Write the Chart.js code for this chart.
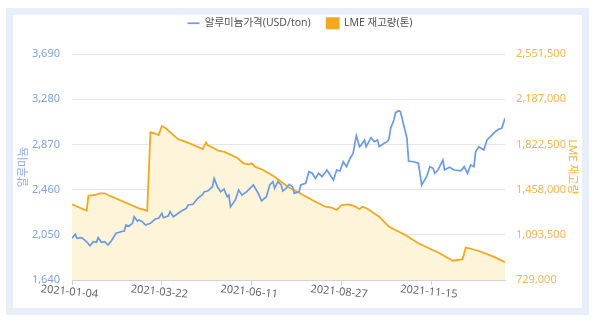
<!DOCTYPE html>
<html lang="ko">
<head>
<meta charset="utf-8">
<title>알루미늄 가격과 LME 재고량</title>
<script src="https://cdn.jsdelivr.net/npm/chart.js@4.4.1/dist/chart.umd.min.js"></script>
<style>
  html, body { margin: 0; padding: 0; background: #fff; }
  #wrap { position: relative; width: 600px; height: 325px; }
  #frame {
    position: absolute; left: 6px; top: 8px;
    width: 583px; height: 307px;
    box-sizing: border-box;
    border: 7px solid #e8eff9;
  }
  #chart { position: absolute; left: 0; top: 0; }
</style>
</head>
<body>
<div id="wrap">
  <div id="frame"></div>
  <canvas id="chart" width="600" height="325"></canvas>
</div>
<script>
// trading-day index (0 = 2021-01-04) and value
const priceDays = [
  0, 2, 3, 6, 9, 11, 13, 15, 16, 18, 20, 22, 24, 27, 30, 32, 33, 35, 37, 38,
  40, 41, 43, 45, 48, 51, 53, 55, 56, 59, 60, 62, 65, 67, 70, 71, 74, 77, 80, 81,
  83, 86, 87, 89, 91, 93, 95, 96, 97, 100, 102, 104, 107, 111, 114, 116, 119, 121, 123, 124,
  126, 128, 129, 131, 133, 135, 136, 139, 140, 143, 145, 147, 149, 151, 153, 156, 158, 160, 162, 164,
  166, 168, 170, 172, 174, 176, 177, 179, 180, 183, 185, 187, 188, 191, 193, 194, 195, 197, 198, 200,
  201, 203, 205, 206, 209, 212, 214, 217, 219, 221, 222, 224, 227, 228, 231, 234, 238, 240, 242, 244,
  246, 247, 249, 252, 254, 257, 259, 261, 263, 265
];
const priceUsd = [
  2018, 2055, 2018, 2024, 1987, 1951, 1987, 1982, 2024, 1982, 1987, 1957, 1994, 2064, 2078, 2084, 2139, 2130, 2154, 2214,
  2175, 2184, 2169, 2139, 2154, 2193, 2200, 2245, 2205, 2223, 2260, 2214, 2245, 2266, 2290, 2320, 2327, 2381, 2417, 2441,
  2447, 2486, 2562, 2486, 2441, 2465, 2396, 2411, 2305, 2366, 2456, 2410, 2441, 2502, 2426, 2357, 2396, 2502, 2532, 2472,
  2532, 2502, 2447, 2472, 2508, 2486, 2426, 2441, 2502, 2517, 2622, 2608, 2562, 2608, 2577, 2638, 2592, 2547, 2638, 2629,
  2713, 2668, 2738, 2789, 2949, 2849, 2865, 2910, 2849, 2931, 2895, 2910, 2849, 2880, 2895, 2919, 3016, 3091, 3158, 3176,
  3167, 3046, 2925, 2719, 2713, 2699, 2502, 2577, 2668, 2653, 2608, 2638, 2729, 2638, 2662, 2638, 2631, 2668, 2608, 2683,
  2668, 2804, 2849, 2819, 2910, 2955, 2985, 3007, 3016, 3107
];

const stockDays = [
  0, 9, 10, 14, 17, 20, 22, 41, 46, 48, 51, 53, 55, 57, 65, 71, 80, 82, 83, 90,
  93, 101, 105, 108, 110, 112, 117, 124, 132, 139, 147, 155, 159, 162, 165, 169, 172, 176, 178, 181,
  188, 194, 198, 204, 212, 225, 233, 239, 241, 243, 249, 258, 265
];
const stockTon = [
  1339400, 1287800, 1408800, 1414400, 1428100, 1428100, 1414400, 1307200, 1287800, 1920100,
  1908800, 1898300, 1970900, 1957100, 1863600, 1836200, 1785400, 1839400, 1817600, 1769300,
  1763600, 1715200, 1670100, 1662000, 1670100, 1642700, 1616000, 1562000, 1481400, 1433000,
  1374100, 1320100, 1312000, 1293500, 1333800, 1339400, 1328200, 1301500, 1320100, 1301500,
  1239400, 1158800, 1132200, 1091900, 1025000, 944300, 884600, 897000, 990000, 985000,
  962900, 916900, 871700
];

const tickDays = [0, 55, 110, 165, 220];
const tickLabels = ['2021-01-04', '2021-03-22', '2021-06-11', '2021-08-27', '2021-11-15'];

const priceLabel = '알루미늄가격(USD/ton)';
const stockLabel = 'LME 재고량(톤)';

const pricePoints = priceDays.map((d, i) => ({ x: d, y: priceUsd[i] }));
const stockPoints = stockDays.map((d, i) => ({ x: d, y: stockTon[i] }));

Chart.defaults.font.family = "'Noto Sans', 'Noto Sans CJK KR', sans-serif";
Chart.defaults.font.size = 11;

// fixed room above the plot for the legend
const legendSpace = {
  id: 'legendSpace',
  beforeInit(chart) {
    const fit = chart.legend.fit;
    chart.legend.fit = function () {
      fit.call(this);
      this.height = 52;
    };
  }
};

new Chart(document.getElementById('chart'), {
  type: 'line',
  data: {
    datasets: [{
      label: priceLabel,
      data: pricePoints,
      yAxisID: 'yPrice',
      borderColor: '#6b9be6',
      borderWidth: 1.7,
      pointRadius: 0,
      pointStyle: 'line',
      fill: false,
      tension: 0
    }, {
      label: stockLabel,
      data: stockPoints,
      yAxisID: 'yStock',
      borderColor: '#f4a81d',
      backgroundColor: '#fef4da',
      borderWidth: 1.8,
      pointRadius: 0,
      pointStyle: 'rect',
      fill: 'start',
      tension: 0
    }]
  },
  options: {
    responsive: false,
    animation: false,
    layout: { padding: { top: 2, left: 10, right: 10, bottom: 0 } },
    plugins: {
      tooltip: { enabled: false },
      legend: {
        position: 'top',
        labels: {
          usePointStyle: true,
          pointStyleWidth: 12,
          boxHeight: 10,
          padding: 16,
          color: '#555',
          font: { size: 10.5 },
          generateLabels(chart) {
            const items = Chart.defaults.plugins.legend.labels.generateLabels(chart);
            items.forEach(item => {
              const ds = chart.data.datasets[item.datasetIndex];
              item.fillStyle = ds.borderColor;
            });
            return items;
          }
        }
      }
    },
    scales: {
      x: {
        type: 'linear',
        min: 0,
        max: 265,
        afterBuildTicks(scale) {
          scale.ticks = tickDays.map(v => ({ value: v }));
        },
        afterFit(scale) { scale.height = 45; },
        ticks: {
          autoSkip: false,
          minRotation: -5.5,
          maxRotation: -5.5,
          labelOffset: 26,
          padding: 3,
          color: '#666',
          callback(value) { return tickLabels[tickDays.indexOf(value)]; }
        },
        grid: { drawOnChartArea: false, tickLength: 5, color: '#d3d3d3' },
        border: { color: '#d3d3d3' }
      },
      yPrice: {
        position: 'left',
        min: 1640,
        max: 3690,
        afterFit(scale) { scale.width = 62; },
        ticks: { stepSize: 410, padding: 12, color: '#7fa2e2' },
        grid: { color: '#e6e6e6', drawTicks: false },
        border: { display: false },
        title: { display: true, text: '알루미늄', color: '#8eabe6', padding: { top: 7 } }
      },
      yStock: {
        position: 'right',
        min: 729000,
        max: 2551500,
        afterFit(scale) { scale.width = 85; },
        ticks: { stepSize: 364500, padding: 11, color: '#f5b54a' },
        grid: { drawOnChartArea: false, drawTicks: false },
        border: { display: false },
        title: { display: true, text: 'LME 재고량', color: '#f2b13b', padding: { top: 11 } }
      }
    }
  },
  plugins: [legendSpace]
});
</script>
</body>
</html>
